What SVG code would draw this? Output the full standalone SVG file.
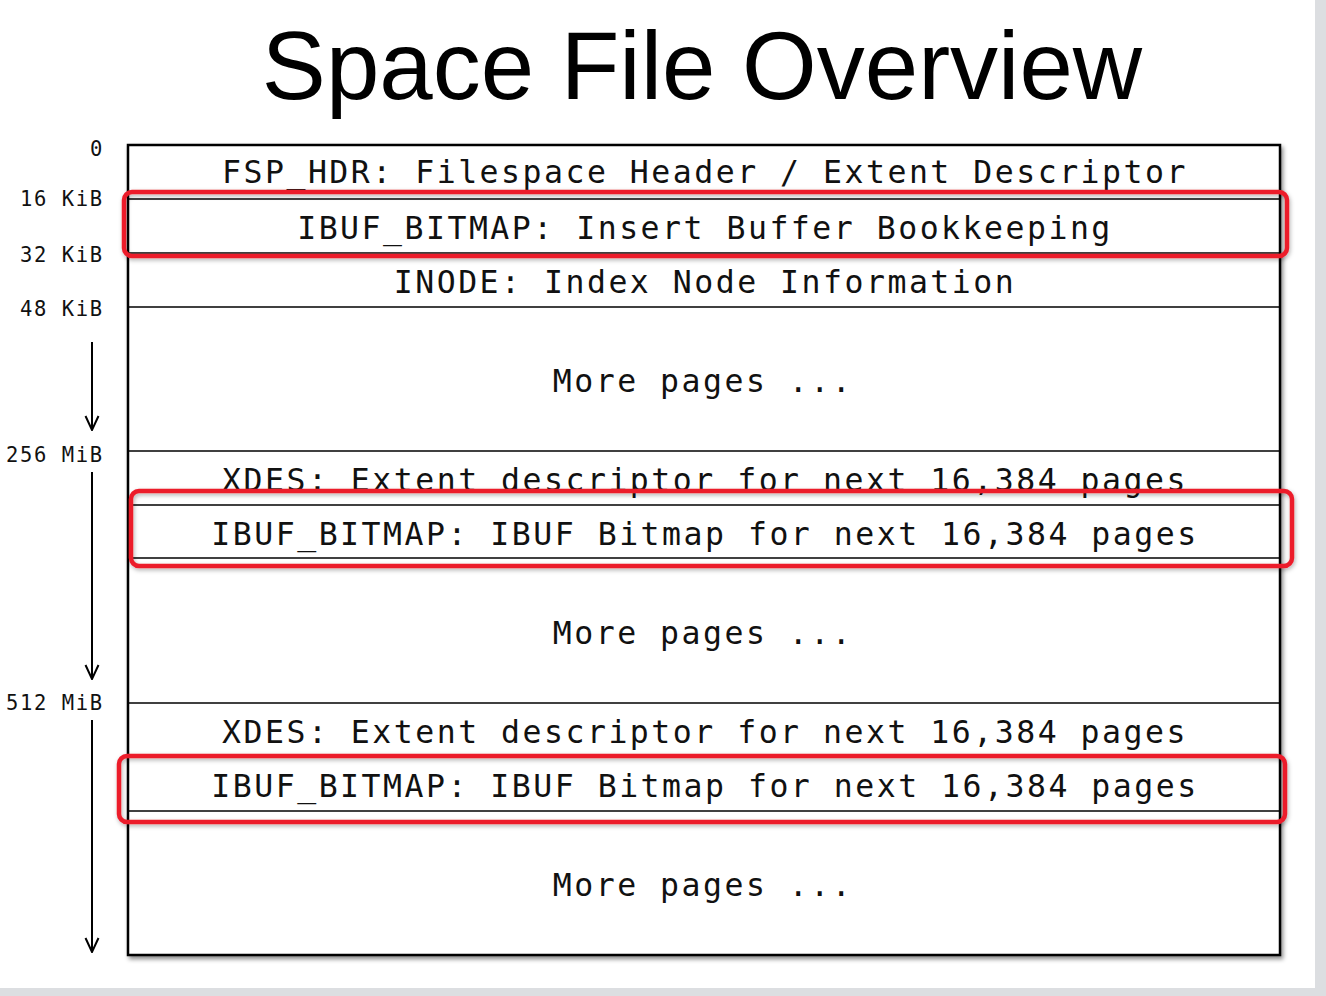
<svg xmlns="http://www.w3.org/2000/svg" width="1326" height="996" viewBox="0 0 1326 996">
<style>
.lbl{font-family:"DejaVu Sans Mono","Liberation Mono",monospace;font-size:20.5px;letter-spacing:1.6px;fill:#111}
.row{font-family:"DejaVu Sans Mono","Liberation Mono",monospace;font-size:31.5px;letter-spacing:2.5px;fill:#111;text-anchor:middle}
.title{font-family:"Liberation Sans",Arial,sans-serif;font-size:96px;fill:#000;text-anchor:middle}
.sep{stroke:#000;stroke-width:1.6;fill:none}
.hl{fill:none;stroke:#ec1c2a;stroke-width:4.5}
.arr{stroke:#000;stroke-width:2;fill:none}
</style>
<defs>
<filter id="sh" x="-5%" y="-5%" width="110%" height="110%">
<feDropShadow dx="2" dy="3" stdDeviation="2" flood-color="#000" flood-opacity="0.45"/>
</filter>
<filter id="shr" x="-5%" y="-20%" width="110%" height="140%">
<feDropShadow dx="1" dy="2" stdDeviation="2" flood-color="#000" flood-opacity="0.3"/>
</filter>
<marker id="ah" viewBox="0 0 16 16" refX="15" refY="8" markerWidth="16" markerHeight="16" markerUnits="userSpaceOnUse" orient="auto">
<path d="M1,1.5 L15,8 L1,14.5" fill="none" stroke="#000" stroke-width="2"/>
</marker>
</defs>
<rect x="0" y="0" width="1326" height="996" fill="#fff"/>
<rect x="1315" y="0" width="11" height="996" fill="#dcdee1"/>
<rect x="0" y="988" width="1326" height="8" fill="#dcdee1"/>
<text class="title" x="702" y="99">Space File Overview</text>

<g id="offsets">
<text class="lbl" x="90" y="156">0</text>
<text class="lbl" x="20" y="206">16 KiB</text>
<text class="lbl" x="20" y="262">32 KiB</text>
<text class="lbl" x="20" y="316">48 KiB</text>
<text class="lbl" x="6" y="462">256 MiB</text>
<text class="lbl" x="6" y="710">512 MiB</text>
</g>

<g id="connectors">
<line class="arr" x1="92" y1="342" x2="92" y2="430" marker-end="url(#ah)"/>
<line class="arr" x1="92" y1="472" x2="92" y2="679" marker-end="url(#ah)"/>
<line class="arr" x1="92" y1="720" x2="92" y2="952" marker-end="url(#ah)"/>
</g>

<g id="space-file">
<rect x="128" y="145" width="1152" height="810" fill="#fff" stroke="#000" stroke-width="2.5" filter="url(#sh)"/>
<line class="sep" x1="128" y1="199" x2="1280" y2="199"/>
<line class="sep" x1="128" y1="253" x2="1280" y2="253"/>
<line class="sep" x1="128" y1="307" x2="1280" y2="307"/>
<line class="sep" x1="128" y1="451" x2="1280" y2="451"/>
<line class="sep" x1="128" y1="505" x2="1280" y2="505"/>
<line class="sep" x1="128" y1="558" x2="1280" y2="558"/>
<line class="sep" x1="128" y1="703" x2="1280" y2="703"/>
<line class="sep" x1="128" y1="757" x2="1280" y2="757"/>
<line class="sep" x1="128" y1="811" x2="1280" y2="811"/>
</g>

<g id="fsp-hdr"><text class="row" x="705" y="183">FSP_HDR: Filespace Header / Extent Descriptor</text></g>
<g id="ibuf-bitmap-1"><text class="row" x="705" y="239">IBUF_BITMAP: Insert Buffer Bookkeeping</text></g>
<g id="inode"><text class="row" x="705" y="293">INODE: Index Node Information</text></g>
<g id="more-1"><text class="row" x="703" y="392">More pages ...</text></g>
<g id="xdes-1"><text class="row" x="705" y="491">XDES: Extent descriptor for next 16,384 pages</text></g>
<g id="ibuf-bitmap-2"><text class="row" x="705" y="545">IBUF_BITMAP: IBUF Bitmap for next 16,384 pages</text></g>
<g id="more-2"><text class="row" x="703" y="644">More pages ...</text></g>
<g id="xdes-2"><text class="row" x="705" y="743">XDES: Extent descriptor for next 16,384 pages</text></g>
<g id="ibuf-bitmap-3"><text class="row" x="705" y="797">IBUF_BITMAP: IBUF Bitmap for next 16,384 pages</text></g>
<g id="more-3"><text class="row" x="703" y="896">More pages ...</text></g>

<g id="highlights" filter="url(#shr)">
<rect class="hl" x="124" y="192" width="1163" height="64" rx="8"/>
<rect class="hl" x="131" y="491" width="1161" height="75" rx="8"/>
<rect class="hl" x="119" y="756" width="1166" height="66" rx="8"/>
</g>
</svg>
